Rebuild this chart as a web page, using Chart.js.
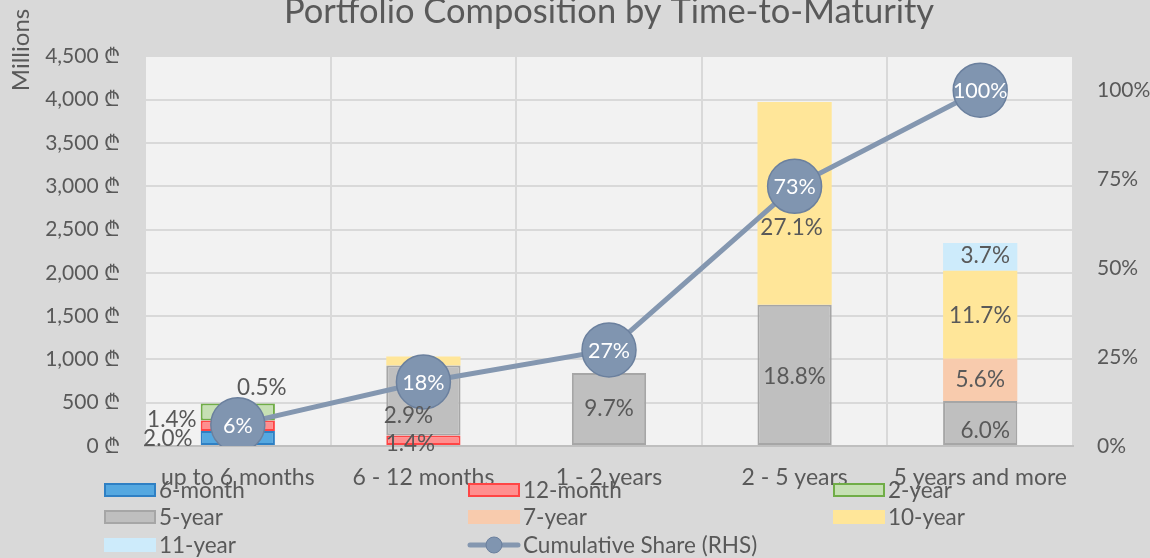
<!DOCTYPE html>
<html lang="en">
<head>
<meta charset="UTF-8">
<title>Portfolio Composition by Time-to-Maturity</title>
<style>
  body { margin: 0; background: #d9d9d9; }
  #wrap { width: 1150px; height: 558px; }
</style>
</head>
<body>
<div id="wrap"><canvas id="chart" width="1150" height="558"></canvas></div>
<script src="https://cdn.jsdelivr.net/npm/chart.js"></script>
<script>
// categories and values (millions)
const categories = ['up to 6 months', '6 - 12 months', '1 - 2 years', '2 - 5 years', '5 years and more'];
const sixMonth    = [174, null, null, null, null];
const twelveMonth = [121, 121, null, null, null];
const twoYear     = [196, null, null, null, null];
const fiveYear    = [null, 808, 842, 1632, 521];
const sevenYear   = [null, null, null, null, 486];
const tenYear     = [null, 104, null, 2340, 1016];
const elevenYear  = [null, null, null, null, 321];
const cumulativeShare = [0.06, 0.18, 0.27, 0.73, 1.00];

// data label texts as shown on the chart
const sixMonthLabels    = ['2.0%', '', '', '', ''];
const twelveMonthLabels = ['1.4%', '1.4%', '', '', ''];
const twoYearLabels     = ['0.5%', '', '', '', ''];
const fiveYearLabels    = ['', '2.9%', '9.7%', '18.8%', '6.0%'];
const sevenYearLabels   = ['', '', '', '', '5.6%'];
const tenYearLabels     = ['', '', '', '27.1%', '11.7%'];
const elevenYearLabels  = ['', '', '', '', '3.7%'];

const leftTicks = { min: 0, max: 4500, step: 500 };
const rightTicks = { min: 0, max: 1.095, step: 0.25 };

const textColor = '#595959';
const fontFamily = 'Lato, "Open Sans", sans-serif';
Chart.defaults.font.family = fontFamily;
Chart.defaults.color = textColor;

// label nudges (dx, dy) from segment centre, like Excel's moved labels
const nudges = {
  0: [[-70, 1]],
  1: [[-66, -6], [-13, 3]],
  2: [[24, -24]],
  3: [null, [-15, 15], [0, 0], [0, 2], [5, 8]],
  5: [null, null, null, [-3, 24], [0, 1]],
  6: [null, null, null, null, [5, -1]]
};

function barSet(label, data, labels, bg, border, bw) {
  return {
    type: 'bar', label: label, data: data, labelsText: labels,
    backgroundColor: bg, borderColor: border || bg, borderWidth: bw || 0,
    borderSkipped: false, yAxisID: 'y', order: 2,
    categoryPercentage: 1, barPercentage: 0.4
  };
}

const datasets = [
  barSet('6-month', sixMonth, sixMonthLabels, '#55a8e0', '#2f80c4', 2),
  barSet('12-month', twelveMonth, twelveMonthLabels, '#ff8f8f', '#ff4545', 2),
  barSet('2-year', twoYear, twoYearLabels, '#c6e0b4', '#70ad47', 2),
  barSet('5-year', fiveYear, fiveYearLabels, '#bfbfbf', '#a6a6a6', 2),
  barSet('7-year', sevenYear, sevenYearLabels, '#f8cbad'),
  barSet('10-year', tenYear, tenYearLabels, '#ffe699'),
  barSet('11-year', elevenYear, elevenYearLabels, '#cdebfb'),
  {
    type: 'line', label: 'Cumulative Share (RHS)', data: cumulativeShare,
    yAxisID: 'y1', order: 0,
    borderColor: '#8497b0', borderWidth: 5,
    pointRadius: 27, pointHoverRadius: 27,
    pointBackgroundColor: '#8095b0', pointBorderColor: '#6b809e', pointBorderWidth: 1.5
  }
];

const backgroundPlugin = {
  id: 'bg',
  beforeDraw(chart) {
    const { ctx, chartArea: a } = chart;
    ctx.save();
    ctx.fillStyle = '#d9d9d9';
    ctx.fillRect(0, 0, chart.width, chart.height);
    ctx.fillStyle = '#f2f2f2';
    ctx.fillRect(a.left, a.top, a.right - a.left, a.bottom - a.top);
    ctx.restore();
  }
};

const labelPlugin = {
  id: 'labels',
  afterDatasetsDraw(chart) {
    const ctx = chart.ctx;
    ctx.save();
    ctx.textAlign = 'center';
    ctx.textBaseline = 'middle';
    chart.data.datasets.forEach((ds, i) => {
      const meta = chart.getDatasetMeta(i);
      meta.data.forEach((el, j) => {
        if (ds.type === 'bar') {
          const txt = ds.labelsText[j];
          if (!txt) return;
          const n = (nudges[i] && nudges[i][j]) || [0, 0];
          ctx.font = '22.5px ' + fontFamily;
          ctx.fillStyle = textColor;
          ctx.fillText(txt, el.x + n[0], (el.y + el.base) / 2 + n[1]);
        } else {
          ctx.font = '21.5px ' + fontFamily;
          ctx.fillStyle = '#ffffff';
          ctx.fillText(Math.round(ds.data[j] * 100) + '%', el.x, el.y + 1);
        }
      });
    });
    ctx.restore();
  }
};

const extrasPlugin = {
  id: 'extras',
  afterDraw(chart) {
    const ctx = chart.ctx;
    ctx.save();
    ctx.fillStyle = textColor;
    ctx.font = '24px ' + fontFamily;
    // axis unit
    ctx.translate(21, 50);
    ctx.rotate(-Math.PI / 2);
    ctx.textAlign = 'center';
    ctx.textBaseline = 'middle';
    ctx.fillText('Millions', 0, 0);
    ctx.restore();

    // legend in three columns
    const colX = [104, 468, 833];
    const rowY = [490, 517, 545];
    ctx.save();
    ctx.font = '22.5px ' + fontFamily;
    ctx.textBaseline = 'middle';
    ctx.textAlign = 'left';
    chart.data.datasets.forEach((ds, i) => {
      const x = colX[i % 3], y = rowY[Math.floor(i / 3)];
      if (ds.type === 'bar') {
        ctx.fillStyle = ds.backgroundColor;
        ctx.fillRect(x, y - 7, 52, 14);
        if (ds.borderWidth) {
          ctx.strokeStyle = ds.borderColor;
          ctx.lineWidth = 2;
          ctx.strokeRect(x + 1, y - 6, 50, 12);
        }
      } else {
        ctx.strokeStyle = ds.borderColor;
        ctx.lineWidth = 5;
        ctx.lineCap = 'round';
        ctx.beginPath();
        ctx.moveTo(x + 2, y);
        ctx.lineTo(x + 50, y);
        ctx.stroke();
        ctx.beginPath();
        ctx.arc(x + 26, y, 8, 0, Math.PI * 2);
        ctx.fillStyle = ds.pointBackgroundColor;
        ctx.fill();
        ctx.lineWidth = 1;
        ctx.strokeStyle = ds.pointBorderColor;
        ctx.stroke();
      }
      ctx.fillStyle = textColor;
      ctx.fillText(ds.label, x + 55, y + 1);
    });
    ctx.restore();
  }
};

new Chart(document.getElementById('chart'), {
  data: { labels: categories, datasets: datasets },
  options: {
    responsive: false,
    animation: false,
    layout: { padding: 0 },
    plugins: {
      legend: { display: false },
      tooltip: { enabled: false },
      title: {
        display: true,
        fullSize: false,
        text: 'Portfolio Composition by Time-to-Maturity',
        font: { size: 34.5, weight: 'normal' },
        color: textColor,
        padding: { top: -8.4, bottom: 23.4 }
      }
    },
    scales: {
      x: {
        stacked: true,
        grid: { offset: true, color: '#d9d9d9', lineWidth: 2, drawTicks: false },
        border: { color: '#bfbfbf', width: 2 },
        ticks: { font: { size: 23 }, color: textColor, padding: 18, maxRotation: 0, autoSkip: false },
        afterFit(s) { s.height = 112; }
      },
      y: {
        stacked: true,
        position: 'left',
        min: leftTicks.min, max: leftTicks.max,
        grid: { color: '#d9d9d9', lineWidth: 2, drawTicks: false },
        border: { display: false },
        ticks: {
          stepSize: leftTicks.step, padding: 25, font: { size: 21 }, color: textColor,
          callback: v => v.toLocaleString('en-US') + ' \u20BE'
        },
        afterFit(s) { s.width = 145; }
      },
      y1: {
        position: 'right',
        min: rightTicks.min, max: rightTicks.max,
        grid: { display: false, drawTicks: false },
        border: { display: false },
        ticks: {
          stepSize: rightTicks.step, padding: 24, font: { size: 21 }, color: textColor,
          callback: v => (Math.abs(v / 0.25 - Math.round(v / 0.25)) < 1e-6 ? Math.round(v * 100) + '%' : null)
        },
        afterFit(s) { s.width = 77; }
      }
    }
  },
  plugins: [backgroundPlugin, labelPlugin, extrasPlugin]
});
</script>
</body>
</html>
